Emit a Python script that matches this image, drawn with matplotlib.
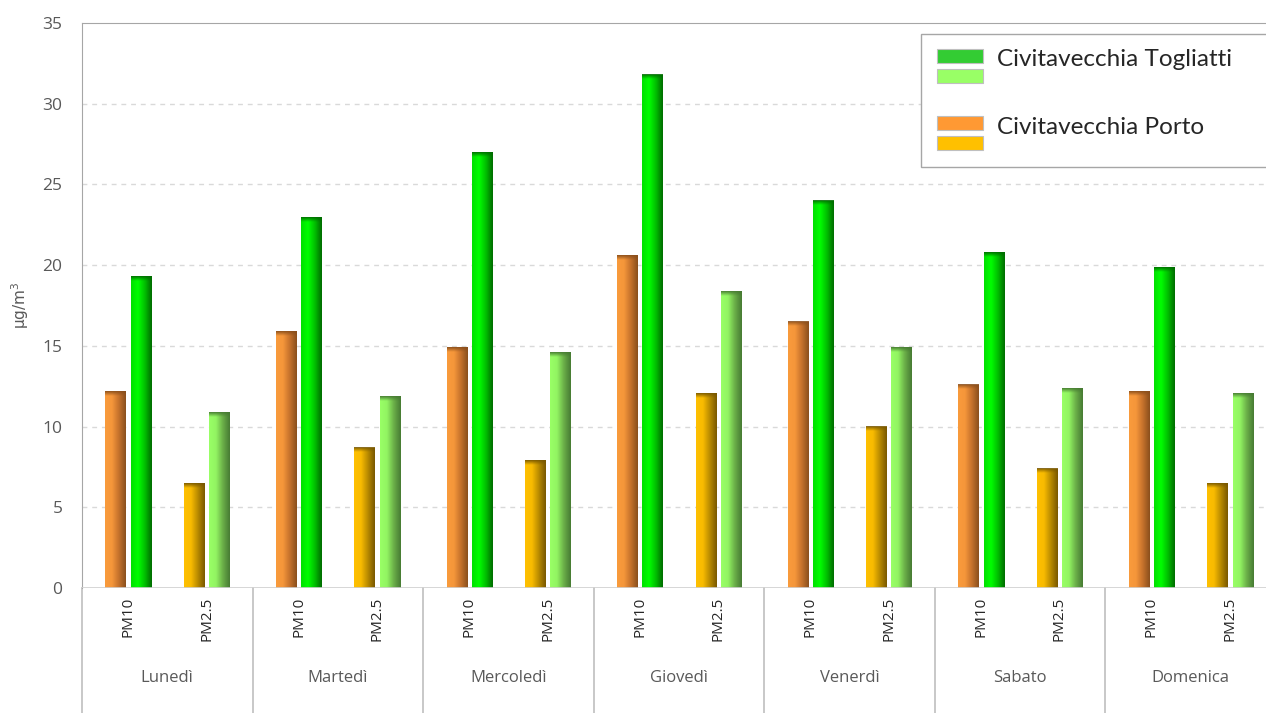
import numpy as np
import matplotlib
matplotlib.use("Agg")
import matplotlib.pyplot as plt
from matplotlib.colors import LinearSegmentedColormap
from matplotlib.patches import Rectangle

# dati (µg/m3)
giorni = ['Lunedì', 'Martedì', 'Mercoledì', 'Giovedì', 'Venerdì', 'Sabato', 'Domenica']
inquinanti = ['PM10', 'PM2.5']

porto_pm10 = [12.2, 15.9, 14.9, 20.6, 16.5, 12.6, 12.2]
porto_pm25 = [6.5, 8.7, 7.9, 12.1, 10.0, 7.4, 6.5]
togliatti_pm10 = [19.3, 23.0, 27.0, 31.8, 24.0, 20.8, 19.9]
togliatti_pm25 = [10.9, 11.9, 14.6, 18.4, 14.9, 12.4, 12.1]

serie = ['Civitavecchia Togliatti', 'Civitavecchia Porto']

# colori delle sfumature (da sinistra a destra)
c_porto10 = ['#f99b3c', '#f5963a', '#c4712c', '#8a4f1c']
c_porto25 = ['#ffc000', '#f8bb00', '#b88a00', '#795800']
c_togl10 = ['#00e000', '#00ff00', '#00bf00', '#006c00']
c_togl25 = ['#99ff66', '#92f462', '#6aae48', '#477b33']

grigio = '#595959'

fig = plt.figure(figsize=(12.66, 7.13), dpi=100)
ax = fig.add_axes([82/1266, 125/713, 1194/1266, 565/713])

n = len(giorni)
# due categorie (PM10, PM2.5) per giorno
x = np.array([2*d + 0.5 + s for d in range(n) for s in (-0.46, 0.46)])
w = 0.235
off = 0.148

porto = [v for coppia in zip(porto_pm10, porto_pm25) for v in coppia]
togl = [v for coppia in zip(togliatti_pm10, togliatti_pm25) for v in coppia]
col_porto = [c_porto10, c_porto25] * n
col_togl = [c_togl10, c_togl25] * n

def sfuma(bars, colori):
    for b, cols in zip(bars, colori):
        cmap = LinearSegmentedColormap.from_list('g', cols)
        x0, y0 = b.get_x(), b.get_y()
        x1, h = x0 + b.get_width(), b.get_height()
        grad = np.linspace(0, 1, 64).reshape(1, -1)
        im = ax.imshow(grad, cmap=cmap, aspect='auto', extent=(x0, x1, y0, h),
                       zorder=3, interpolation='bicubic')
        im.set_clip_path(b)
        # bordo superiore più scuro
        dh = 0.3
        cap = np.zeros((16, 2, 4))
        cap[..., :3] = matplotlib.colors.to_rgb(cols[-1])
        cap[..., 3] = np.linspace(0.95, 0.0, 16)[:, None]
        ax.imshow(cap, aspect='auto', extent=(x0, x1, h - dh, h), zorder=4,
                  interpolation='bilinear')
        b.set_facecolor('none')

b1 = ax.bar(x - off, porto, w, color='none', edgecolor='none', zorder=3)
b2 = ax.bar(x + off, togl, w, color='none', edgecolor='none', zorder=3)
sfuma(b1, col_porto)
sfuma(b2, col_togl)
ax.set_xlim(-0.5, 2*n - 0.5)
ax.set_ylim(0, 35)

ax.set_yticks(np.arange(0, 36, 5))
ax.tick_params(axis='y', length=0, labelsize=12.5, labelcolor=grigio, pad=14)
for lab in ax.get_yticklabels():
    lab.set_family(['Open Sans', 'DejaVu Sans'])
ax.set_xticks([])
for yv in range(5, 35, 5):
    ax.axhline(yv, color='#d9d9d9', lw=1, ls=(0, (3.5, 3.5)), zorder=1)

for s in ['right', 'bottom']:
    ax.spines[s].set_visible(False)
ax.spines['top'].set_color('#a6a6a6')
ax.spines['left'].set_color('#a6a6a6')
ax.axhline(0, color='#d0d0d0', lw=1.2, zorder=5)

ax.set_ylabel('μg/m$^3$', fontsize=11, color=grigio, labelpad=8)

# asse categorie a due livelli
tr = ax.get_xaxis_transform()
for i in range(2*n):
    ax.text(x[i], -0.015, inquinanti[i % 2], rotation=90, ha='center', va='top',
            fontsize=11, color='#262626', transform=tr, clip_on=False,
            family=['Open Sans', 'DejaVu Sans'])
for d in range(n):
    ax.text(2*d + 0.5, -0.16, giorni[d], ha='center', va='center',
            fontsize=12, color=grigio, transform=tr, clip_on=False,
            family=['Open Sans', 'DejaVu Sans'])
for d in range(n + 1):
    ax.plot([2*d - 0.5, 2*d - 0.5], [0, -0.3], color='#bfbfbf', lw=1.2,
            transform=tr, clip_on=False)

# legenda disegnata a mano
H = 713.0
def fx(px):
    return px / 1266.0
def fy(py):
    return 1 - py / H

fig.patches.append(Rectangle((fx(921), fy(167)), fx(400), (167 - 34)/H,
                             transform=fig.transFigure, fc='white', ec='#a6a6a6', lw=1))
leg = [(serie[0], '#33cc33', c_togl25[0], 49, 60),
       (serie[1], '#ff9933', c_porto25[0], 116, 128)]
for nome, ca, cb, ytop, ytxt in leg:
    fig.patches.append(Rectangle((fx(937), fy(ytop + 14)), fx(46), 14/H,
                                 transform=fig.transFigure, fc=ca, ec='#bfbfbf', lw=0.8))
    fig.patches.append(Rectangle((fx(937), fy(ytop + 34)), fx(46), 14/H,
                                 transform=fig.transFigure, fc=cb, ec='#bfbfbf', lw=0.8))
    fig.text(fx(997), fy(ytxt), nome, fontsize=17.5, color='#262626', va='center', ha='left',
             family=['Lato', 'DejaVu Sans'])

fig.savefig('out.png', dpi=100)
